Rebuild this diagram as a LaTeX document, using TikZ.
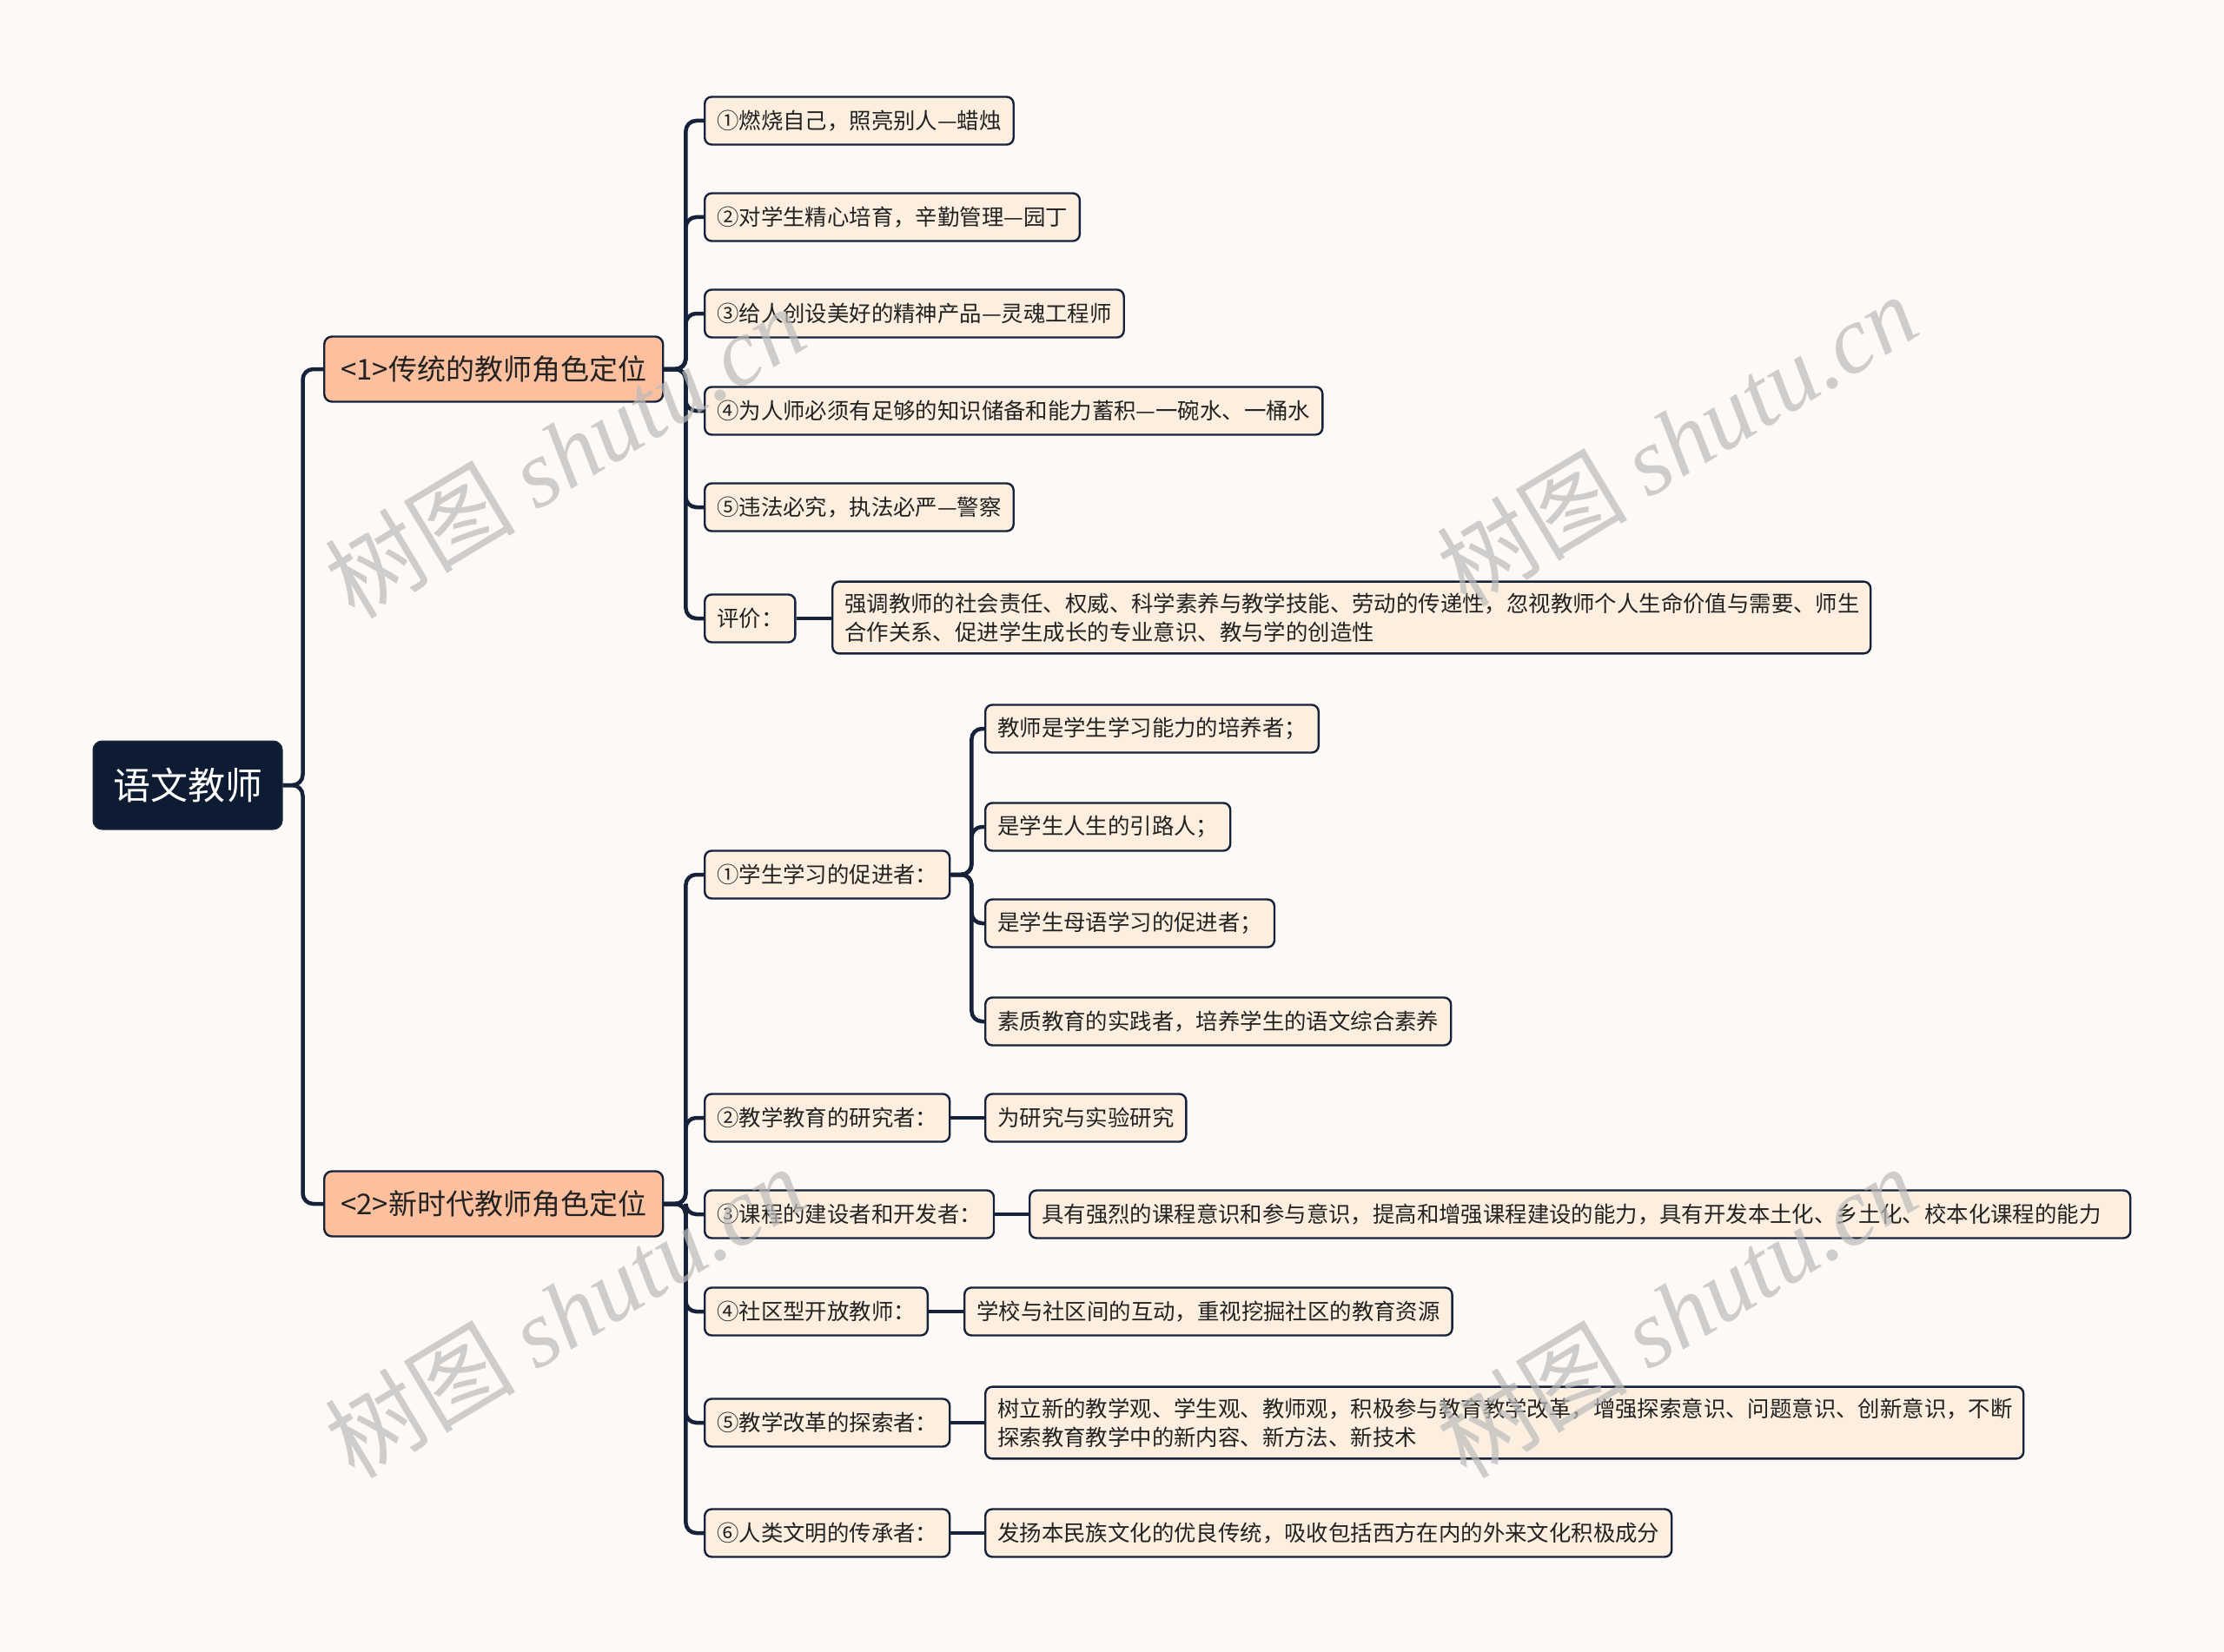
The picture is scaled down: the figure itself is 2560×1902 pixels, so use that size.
\documentclass[tikz,border=0pt]{standalone}
\usepackage{fontspec}
\setmainfont{Noto Sans CJK SC}
\newfontfamily\wmfont{Liberation Serif}
\usetikzlibrary{backgrounds}
\definecolor{bgc}{HTML}{FCF9F7}
\definecolor{linec}{HTML}{16213A}
\definecolor{rootc}{HTML}{0D1B33}
\definecolor{peach}{HTML}{FDC09E}
\definecolor{cream}{HTML}{FDEFDF}
\definecolor{textc}{HTML}{222222}
\definecolor{wmc}{HTML}{BBBBBB}
\tikzset{
  rootbox/.style={draw=linec, fill=rootc, rounded corners=10pt, text=white,
    font=\fontsize{43}{50}\selectfont, minimum width=217pt, minimum height=101pt,
    inner sep=0pt, line width=2pt},
  lonebox/.style={draw=linec, fill=peach, rounded corners=9pt, text=textc,
    font=\fontsize{33}{40}\selectfont, minimum width=390pt, minimum height=75pt,
    inner sep=0pt, line width=2.4pt, anchor=west},
  leaf/.style={draw=linec, fill=cream, rounded corners=8pt, text=textc,
    font=\fontsize{25.4}{33}\selectfont, inner xsep=14pt, inner ysep=0pt,
    minimum height=55pt, line width=2.4pt, anchor=west},
  widebox/.style={text width=#1, align=left, inner ysep=13pt},
  conn/.style={draw=linec, line width=4.5pt, rounded corners=12pt},
  wm/.style={text=wmc, opacity=0.7, rotate=31, font=\fontsize{110}{120}\selectfont}
}
\begin{document}
\begin{tikzpicture}[x=1pt,y=-1pt]
\useasboundingbox (0,0) rectangle (2560,1902);

\node[rootbox] (root) at (216,904) {语文教师};
\node[lonebox] (n1) at (372,425) {<1>传统的教师角色定位};
\node[lonebox] (n2) at (372,1386) {<2>新时代教师角色定位};

\node[leaf] (a1) at (810,139) {①燃烧自己，照亮别人—蜡烛};
\node[leaf] (a2) at (810,250) {②对学生精心培育，辛勤管理—园丁};
\node[leaf] (a3) at (810,361) {③给人创设美好的精神产品—灵魂工程师};
\node[leaf] (a4) at (810,473) {④为人师必须有足够的知识储备和能力蓄积—一碗水、一桶水};
\node[leaf] (a5) at (810,584) {⑤违法必究，执法必严—警察};
\node[leaf] (a6) at (810,712) {评价：};
\node[leaf, widebox=1167pt] (a6d) at (957,711) {强调教师的社会责任、权威、科学素养与教学技能、劳动的传递性，忽视教师个人生命价值与需要、师生\\合作关系、促进学生成长的专业意识、教与学的创造性};

\node[leaf] (b1) at (810,1007) {①学生学习的促进者：};
\node[leaf] (b11) at (1133,839) {教师是学生学习能力的培养者；};
\node[leaf] (b12) at (1133,952) {是学生人生的引路人；};
\node[leaf] (b13) at (1133,1063) {是学生母语学习的促进者；};
\node[leaf] (b14) at (1133,1176) {素质教育的实践者，培养学生的语文综合素养};
\node[leaf] (b2) at (810,1287) {②教学教育的研究者：};
\node[leaf] (b2d) at (1133,1287) {为研究与实验研究};
\node[leaf] (b3) at (810,1398) {③课程的建设者和开发者：};
\node[leaf, text width=1239pt, align=left] (b3d) at (1184,1398) {具有强烈的课程意识和参与意识，提高和增强课程建设的能力，具有开发本土化、乡土化、校本化课程的能力};
\node[leaf] (b4) at (810,1510) {④社区型开放教师：};
\node[leaf] (b4d) at (1109,1510) {学校与社区间的互动，重视挖掘社区的教育资源};
\node[leaf] (b5) at (810,1638) {⑤教学改革的探索者：};
\node[leaf, widebox=1167pt] (b5d) at (1133,1638) {树立新的教学观、学生观、教师观，积极参与教育教学改革，增强探索意识、问题意识、创新意识，不断\\探索教育教学中的新内容、新方法、新技术};
\node[leaf] (b6) at (810,1765) {⑥人类文明的传承者：};
\node[leaf] (b6d) at (1133,1765) {发扬本民族文化的优良传统，吸收包括西方在内的外来文化积极成分};

\begin{pgfonlayer}{background}
\fill[bgc] (0,0) rectangle (2560,1902);
\draw[conn] (root.east) -- ++(23,0) |- (n1.west);
\draw[conn] (root.east) -- ++(23,0) |- (n2.west);
\foreach \c in {a1,a2,a3,a4,a5,a6}
  \draw[conn] (n1.east) -- ++(25,0) |- (\c.west);
\draw[conn] (a6.east) -- (a6.east -| a6d.west);
\foreach \c in {b1,b2,b3,b4,b5,b6}
  \draw[conn] (n2.east) -- ++(25,0) |- (\c.west);
\foreach \c in {b11,b12,b13,b14}
  \draw[conn] (b1.east) -- ++(24,0) |- (\c.west);
\draw[conn] (b2.east) -- (b2d.west);
\draw[conn] (b3.east) -- (b3d.west);
\draw[conn] (b4.east) -- (b4d.west);
\draw[conn] (b5.east) -- (b5.east -| b5d.west);
\draw[conn] (b6.east) -- (b6d.west);
\end{pgfonlayer}

\node[wm] (wm1) at (650,520) {树图 {\wmfont\itshape shutu.cn}};
\node[wm] (wm2) at (1930,506) {树图 {\wmfont\itshape shutu.cn}};
\node[wm] (wm3) at (650,1510) {树图 {\wmfont\itshape shutu.cn}};
\node[wm] (wm4) at (1930,1510) {树图 {\wmfont\itshape shutu.cn}};
\end{tikzpicture}
\end{document}
